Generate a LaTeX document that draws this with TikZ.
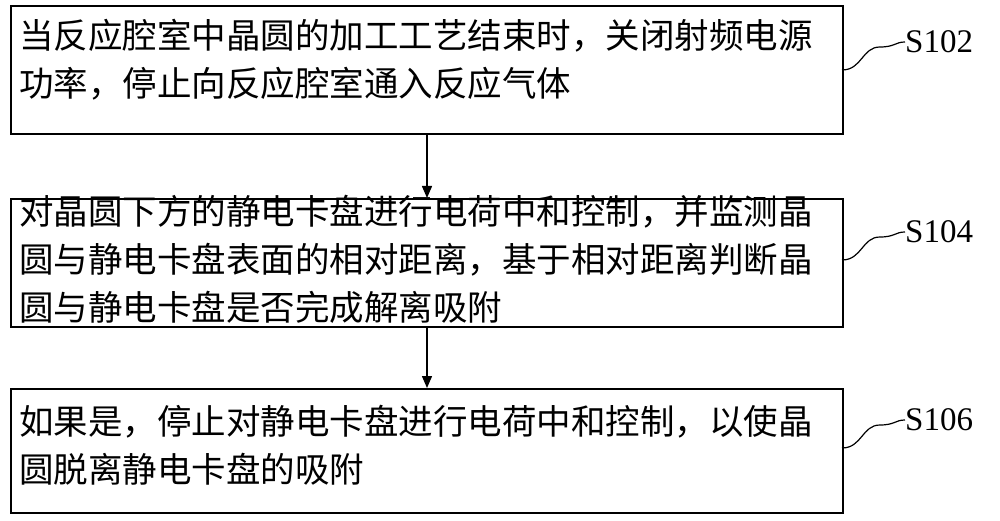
\documentclass[tikz,border=0pt]{standalone}
\usepackage{fontspec}
\setmainfont{Liberation Serif}
\newfontfamily\cjk{Noto Sans CJK SC}
\usetikzlibrary{arrows.meta}
\begin{document}
\begin{tikzpicture}[x=1pt,y=-1pt,
  stepbox/.style={draw,line width=1.6pt,minimum width=832pt,inner sep=0pt,anchor=north west},
  txt/.style={align=left,font=\cjk\fontsize{34.5}{48}\selectfont,anchor=north west,inner sep=0pt},
  lab/.style={font=\fontsize{33}{34}\selectfont,anchor=west,inner sep=0pt},
  arr/.style={line width=1.4pt,-{Triangle[length=12pt,width=10pt]}},
  sq/.style={line width=1.2pt}]
\useasboundingbox (0,0) rectangle (1000,521);
\node[stepbox,minimum height=128pt] (b1) at (10,5) {};
\node[stepbox,minimum height=128pt] (b2) at (10,198) {};
\node[stepbox,minimum height=124pt] (b3) at (10,388) {};
\node[txt] (t1) at (19,19) {当反应腔室中晶圆的加工工艺结束时，关闭射频电源\\功率，停止向反应腔室通入反应气体};
\node[txt] (t2) at (19,195) {对晶圆下方的静电卡盘进行电荷中和控制，并监测晶\\圆与静电卡盘表面的相对距离，基于相对距离判断晶\\圆与静电卡盘是否完成解离吸附};
\node[txt] (t3) at (19,405) {如果是，停止对静电卡盘进行电荷中和控制，以使晶\\圆脱离静电卡盘的吸附};
\draw[arr] (b1.south -| 427,0) -- (b2.north -| 427,0);
\draw[arr] (b2.south -| 427,0) -- (b3.north -| 427,0);
\node[lab] (l1) at (905,42) {S102};
\node[lab] (l2) at (905,232) {S104};
\node[lab] (l3) at (905,420) {S106};
\foreach \b/\l/\y in {b1/l1/42,b2/l2/232,b3/l3/420}{
  \coordinate (s) at (842,\y+28);
  \draw[sq] (s) .. controls (862,\y+28) and (862,\y+5) .. (880,\y+5) .. controls (895,\y+5) and (895,\y) .. (\l.west);
}
\end{tikzpicture}
\end{document}
